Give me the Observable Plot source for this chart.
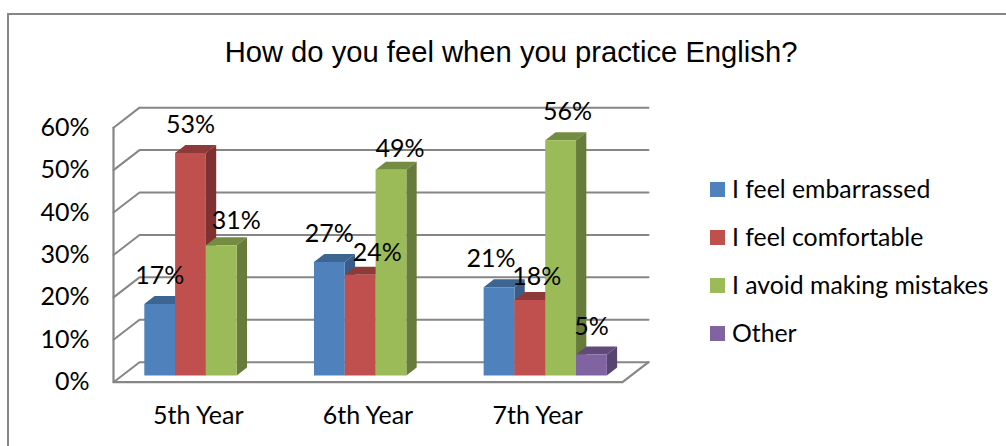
<!DOCTYPE html>
<html>
<head>
<meta charset="utf-8">
<script src="https://cdn.jsdelivr.net/npm/d3@7"></script>
<script src="https://cdn.jsdelivr.net/npm/@observablehq/plot@0.6"></script>
<style>
  html, body { margin: 0; padding: 0; background: #fff; }
  #chart { position: relative; width: 1006px; height: 446px; overflow: hidden; }
  #chart svg { position: absolute; left: 0; top: 0; }
  #border { position: absolute; left: 7px; top: 13px; width: 1100px; height: 600px; border: 2px solid #868686; box-sizing: border-box; }
  h1 { position: absolute; left: 0; width: 1022px; top: 36px; margin: 0; text-align: center;
       font: 400 29.2px "Liberation Sans", Arial, sans-serif; color: #000; white-space: nowrap; }
  #legend { position: absolute; left: 710px; top: 164px; font: 24.8px Lato, sans-serif; color: #000; }
  .key { position: absolute; left: 0; height: 48px; display: flex; align-items: center; white-space: nowrap; }
  .swatch { width: 15px; height: 15px; margin-right: 7px; flex: none; position: relative; top: 1px; }
</style>
</head>
<body>
<div id="chart">
  <div id="border"></div>
  <h1>How do you feel when you practice English?</h1>
  <div id="legend"></div>
</div>
<script>
// Survey answers, in percent, one list per response.
const years = ["5th Year", "6th Year", "7th Year"];
const responses = ["I feel embarrassed", "I feel comfortable", "I avoid making mistakes", "Other"];
const embarrassed = [17, 27, 21];
const comfortable = [53, 24, 18];
const avoidMistakes = [31, 49, 56];
const other = [null, null, 5];
const percentTicks = [0, 10, 20, 30, 40, 50, 60];

// Fill colours for the front, side and top of each response's column.
const frontColors = ["#4f81bd", "#c0504d", "#9bbb59", "#8064a2"];
const sideColors = ["#385d8a", "#7f3030", "#677b3a", "#574470"];
const topColors = ["#3d6592", "#8e3a38", "#738c42", "#604a7b"];

// Pixels per unit of each scale, used to turn the oblique depth into data units.
const pxX = (622 - 113) / 3;
const pxY = 252 / 60;

const barOffset = 30.8 / pxX;
const barWidth = 30.8 / pxX;
const depthX = 10.3 / pxX;
const depthY = 8 / pxY;

// Floor and back wall of the box, shifted from the plane the columns stand on.
const wallX = 26 / pxX;
const frontY = v => -1.6 + 1.01 * v;
const backY = v => 3.17 + 1.01 * v;

// Hand-placed label nudges (px right, px up from the default spot above a column).
const labelNudge = {
  "0|2": [15, -4], "1|1": [17, -6], "1|2": [9, -7],
  "2|0": [-8, 0], "2|1": [7, -5], "2|2": [7, 0]
};

const series = [embarrassed, comfortable, avoidMistakes, other];
const bars = [];
years.forEach((year, g) => {
  series.forEach((vals, s) => {
    if (vals[g] == null) return;
    const x0 = g + barOffset + s * barWidth;
    bars.push({g, s, v: vals[g], x0, x1: x0 + barWidth});
  });
});

// Each column becomes three polygons, painted left to right so nearer faces overlap.
const faces = bars.flatMap(({g, s, v, x0, x1}) => {
  const id = `${g}-${s}`;
  const poly = (face, fill, pts) => pts.map(([x, y]) => ({z: `${id}-${face}`, fill, x, y}));
  return [
    ...poly("top", topColors[s], [[x0, v], [x0 + depthX, v + depthY], [x1 + depthX, v + depthY], [x1, v]]),
    ...poly("side", sideColors[s], [[x1, 0], [x1 + depthX, depthY], [x1 + depthX, v + depthY], [x1, v]]),
    ...poly("front", frontColors[s], [[x0, 0], [x1, 0], [x1, v], [x0, v]])
  ];
});

// Gridlines run along the left side of the box and then across the back wall.
const gridPath = percentTicks.flatMap(v => [
  {v, x: 0, y: frontY(v)},
  {v, x: wallX, y: backY(v)},
  {v, x: 3 + wallX, y: backY(v)}
]);
const frontEdge = [
  {x: 0, y: frontY(60)}, {x: 0, y: frontY(0)}, {x: 3, y: frontY(0)}, {x: 3 + wallX, y: backY(0)}
];

const labels = bars.map(({g, s, v, x0}) => {
  const [nx, ny] = labelNudge[`${g}|${s}`] || [0, 0];
  return {
    text: `${v}%`,
    x: x0 + barWidth / 2 + nx / pxX,
    y: v + (28 + ny) / pxY
  };
});

const plot = Plot.plot({
  width: 1006,
  height: 446,
  marginLeft: 113,
  marginRight: 384,
  marginTop: 123,
  marginBottom: 71,
  x: {domain: [0, 3], axis: null},
  y: {domain: [0, 60], axis: null},
  color: {type: "identity"},
  style: {background: "transparent", overflow: "visible"},
  marks: [
    Plot.line(gridPath, {x: "x", y: "y", z: "v", stroke: "#868686", strokeWidth: 2, curve: "linear"}),
    Plot.line(frontEdge, {x: "x", y: "y", stroke: "#868686", strokeWidth: 2.2, curve: "linear"}),
    Plot.axisX({
      ticks: years.map((_, i) => i + 0.5),
      tickFormat: t => years[t - 0.5],
      tickSize: 0,
      tickPadding: 31,
      fontSize: 25,
      fontFamily: "Lato, sans-serif",
      fill: "#000",
      label: null
    }),
    Plot.axisY({
      ticks: percentTicks.map(frontY),
      tickFormat: t => `${Math.round((t + 1.6) / 1.01)}%`,
      tickSize: 0,
      tickPadding: 24,
      fontSize: 25,
      fontFamily: "Lato, sans-serif",
      fill: "#000",
      label: null
    }),
    Plot.line(faces, {x: "x", y: "y", z: "z", fill: "fill", stroke: null, curve: "linear"}),
    Plot.text(labels, {x: "x", y: "y", text: "text", fontSize: 25, fontFamily: "Lato, sans-serif", fill: "#000"})
  ]
});
document.getElementById("chart").appendChild(plot);

// Legend keys, spaced evenly beside the chart.
const legend = d3.select("#legend");
responses.forEach((name, i) => {
  const key = legend.append("div").attr("class", "key").style("top", `${i * 48}px`);
  key.append("span").attr("class", "swatch").style("background", frontColors[i]);
  key.append("span").text(name);
});
</script>
</body>
</html>
